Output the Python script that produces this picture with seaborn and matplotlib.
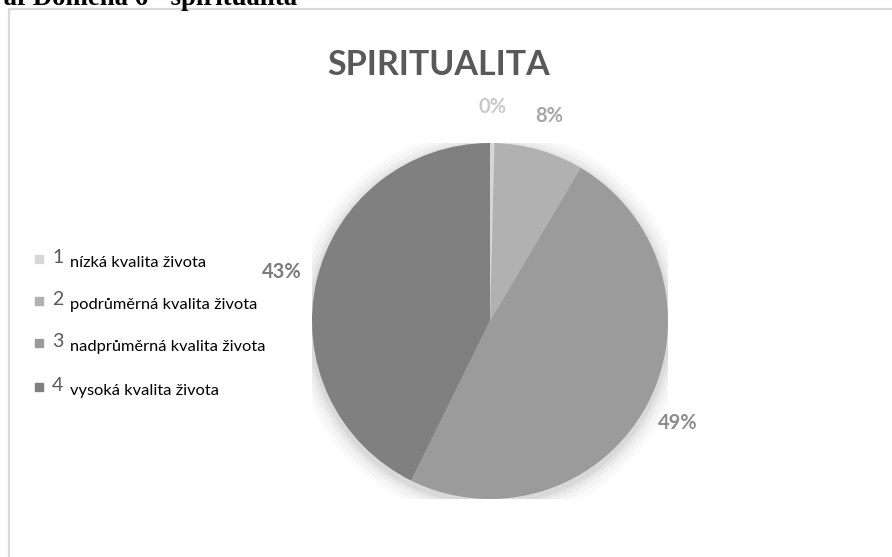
import matplotlib
matplotlib.use("Agg")
import matplotlib.pyplot as plt
import seaborn as sns
from matplotlib.patches import Circle, Rectangle
from matplotlib.lines import Line2D

# ---- data ----
categories = ["nízká kvalita života", "podrůměrná kvalita života",
              "nadprůměrná kvalita života", "vysoká kvalita života"]
codes = ["1", "2", "3", "4"]
values = [0.4, 8.1, 48.8, 42.7]
title = "SPIRITUALITA"
caption = "Graf Doména 6 - spiritualita"

slice_colors = ["#d6d6d6", "#b1b1b1", "#9b9b9b", "#808080"]
label_colors = ["#c9c9c9", "#a6a6a6", "#8c8c8c", "#7b7b7b"]

sns.set_theme(style="white")
plt.rcParams["font.family"] = ["Lato", "DejaVu Sans"]

W, H = 892, 557
fig = plt.figure(figsize=(W / 100, H / 100), dpi=100, facecolor="white")

def fx(x):
    return x / W

def fy(y):
    return 1 - y / H

# frame
fig.add_artist(Line2D([fx(9), fx(9)], [fy(9), fy(H + 5)], color="#d9d9d9", lw=1.6))
fig.add_artist(Line2D([fx(9), fx(W + 5)], [fy(9), fy(9)], color="#d9d9d9", lw=1.6))

# caption at the very top (partly outside the page, as in the reference)
fig.text(fx(297), fy(5), caption, ha="right", va="baseline",
         fontsize=19.3, fontweight="bold", family=["Liberation Serif", "DejaVu Serif"],
         color="black")

# title
fig.text(fx(439), fy(65), title, ha="center", va="center", fontsize=24.5,
         fontweight="bold", color="#595959")

# pie
cx, cy, r = 490, 321, 178
ax = fig.add_axes([fx(cx - r), fy(cy + r), 2 * r / W, 2 * r / H])
for i, k in enumerate([1.10, 1.075, 1.05, 1.03, 1.015]):
    ax.add_patch(Circle((0.0, -0.02), k, color="black", alpha=0.018 + 0.006 * i, lw=0, zorder=0))
wedges, texts, autotexts = ax.pie(values, colors=slice_colors, startangle=90,
                                  counterclock=False, autopct="%.0f%%",
                                  pctdistance=1.2, radius=1.0,
                                  wedgeprops=dict(linewidth=0))
for t, c in zip(autotexts, label_colors):
    t.set_color(c)
    t.set_fontsize(14.5)
    t.set_fontweight("bold")
ax.set_xlim(-1, 1)
ax.set_ylim(-1, 1)
ax.set_aspect("equal")
ax.axis("off")

# legend
sq_bottoms = [263, 305, 347, 391]
for code, name, col, yb in zip(codes, categories, slice_colors, sq_bottoms):
    fig.add_artist(Rectangle((fx(35), fy(yb)), 8 / W, 8 / H, color=col,
                             transform=fig.transFigure))
    fig.text(fx(52), fy(yb), code, ha="left", va="baseline", fontsize=14, color="#595959")
    fig.text(fx(70), fy(yb + 4), name, ha="left", va="baseline", fontsize=11.8, color="black")

fig.savefig("out.png", dpi=100, facecolor="white")
